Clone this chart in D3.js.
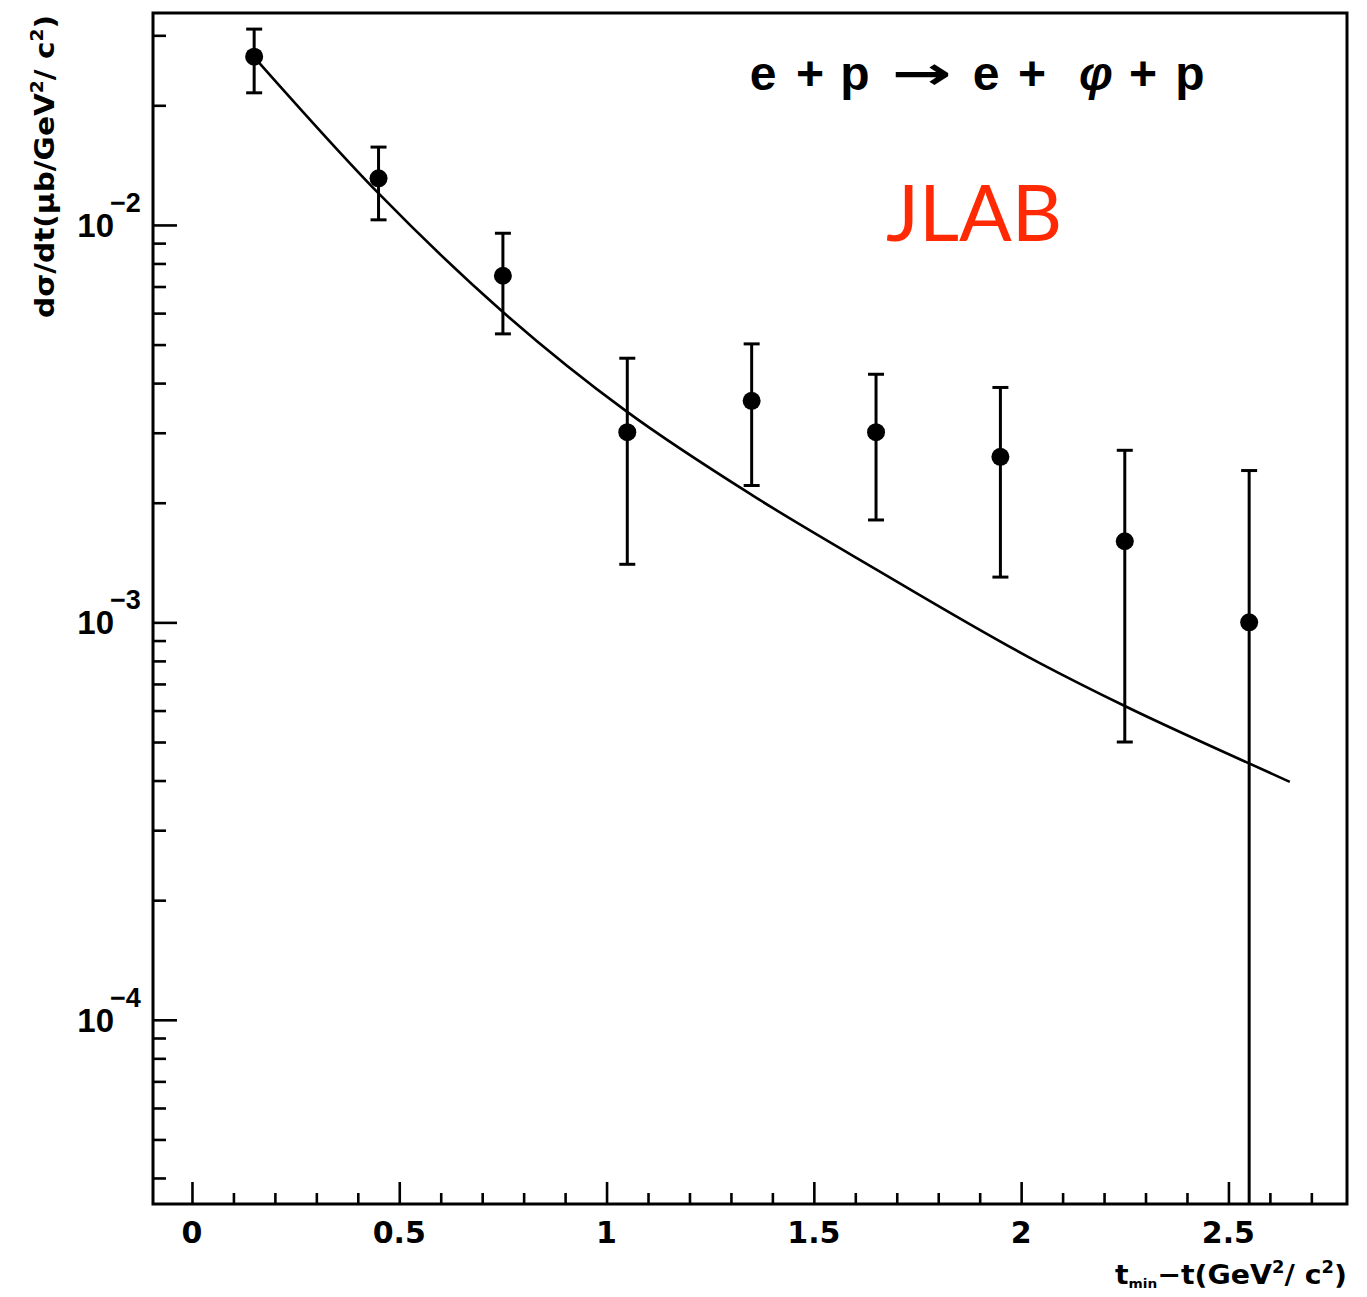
<!DOCTYPE html>
<html>
<head>
<meta charset="utf-8">
<script src="https://cdn.jsdelivr.net/npm/d3@7"></script>
<style>
  html, body { margin: 0; padding: 0; background: #fff; }
  svg { display: block; }
</style>
</head>
<body>
<svg id="chart" width="1367" height="1297"></svg>
<script>
// Measured phi electroproduction cross section vs t_min - t
const tValues   = [0.15, 0.45, 0.75, 1.05, 1.35, 1.65, 1.95, 2.25, 2.55];
const dsdt      = [0.0265, 0.0131, 0.00745, 0.00301, 0.00361, 0.00301, 0.00261, 0.00160, 0.00100];
const dsdtHigh  = [0.0311, 0.0157, 0.00953, 0.00462, 0.00502, 0.00421, 0.00390, 0.00271, 0.00241];
const dsdtLow   = [0.0215, 0.0103, 0.00532, 0.00140, 0.00221, 0.00181, 0.00130, 0.00050, 0];

// Model curve
const curveT = [0.152, 0.449, 0.750, 1.049, 1.351, 1.650, 2.045, 2.250, 2.547, 2.648];
const curveV = [0.0263, 0.01204, 0.00604, 0.00339, 0.00209, 0.00136, 0.00079, 0.000616, 0.000443, 0.000397];

// Axis ticks
const xMajor = [0, 0.5, 1, 1.5, 2, 2.5];
const xMajorLabels = ["0", "0.5", "1", "1.5", "2", "2.5"];
const yDecades = [-4, -3, -2];

const svg = d3.select("#chart");
const plotLeft = 153, plotRight = 1347, plotTop = 13, plotBottom = 1204;

const x = d3.scaleLinear().domain([-0.094, 2.786]).range([plotLeft, plotRight]);
const y = d3.scaleLog().domain([3.44e-5, 0.03414]).range([plotBottom, plotTop]);

svg.append("rect").attr("width", 1367).attr("height", 1297).attr("fill", "#fff");

// minor / major tick values
const xMinor = d3.range(0, 28).map(i => +(i * 0.1).toFixed(1)).filter(v => !xMajor.includes(v));
const yMajorVals = yDecades.map(e => Math.pow(10, e));
const yMinorVals = [];
for (let e = -5; e <= -2; e++) {
  for (let k = 2; k <= 9; k++) {
    const v = k * Math.pow(10, e);
    if (v >= y.domain()[0] && v <= y.domain()[1]) yMinorVals.push(v);
  }
}

function styleAxis(g) {
  g.select(".domain").remove();
  g.selectAll(".tick line").attr("stroke", "#000").attr("stroke-width", 2.6);
  g.selectAll(".tick text").remove();
}

svg.append("g").attr("transform", `translate(0,${plotBottom})`)
  .call(d3.axisBottom(x).tickValues(xMajor).tickSize(-22).tickFormat(""))
  .call(styleAxis);
svg.append("g").attr("transform", `translate(0,${plotBottom})`)
  .call(d3.axisBottom(x).tickValues(xMinor).tickSize(-11).tickFormat(""))
  .call(styleAxis);
svg.append("g").attr("transform", `translate(${plotLeft},0)`)
  .call(d3.axisLeft(y).tickValues(yMajorVals).tickSize(-24).tickFormat(""))
  .call(styleAxis);
svg.append("g").attr("transform", `translate(${plotLeft},0)`)
  .call(d3.axisLeft(y).tickValues(yMinorVals).tickSize(-13).tickFormat(""))
  .call(styleAxis);

// frame
svg.append("rect")
  .attr("x", plotLeft).attr("y", plotTop)
  .attr("width", plotRight - plotLeft).attr("height", plotBottom - plotTop)
  .attr("fill", "none").attr("stroke", "#000").attr("stroke-width", 3);

// x tick labels
svg.append("g").selectAll("text").data(xMajor).join("text")
  .attr("x", d => x(d))
  .attr("y", 1243)
  .attr("text-anchor", "middle")
  .attr("font-family", "DejaVu Sans")
  .attr("font-weight", "bold")
  .attr("font-size", 30)
  .text((d, i) => xMajorLabels[i]);

// y tick labels: 10^n
const yLab = svg.append("g").selectAll("g").data(yDecades).join("g")
  .attr("transform", d => `translate(0,${y(Math.pow(10, d))})`);
yLab.append("text")
  .attr("x", 114).attr("y", 12)
  .attr("text-anchor", "end")
  .attr("font-family", "Liberation Sans")
  .attr("font-weight", "bold")
  .attr("font-size", 33)
  .text("10");
yLab.append("text")
  .attr("x", 110).attr("y", -13)
  .attr("font-family", "Liberation Sans")
  .attr("font-weight", "bold")
  .attr("font-size", 27)
  .text(d => "\u2212" + Math.abs(d));

// axis titles
const yTitle = svg.append("text")
  .attr("transform", "translate(54,318) rotate(-90)")
  .attr("font-family", "DejaVu Sans")
  .attr("font-weight", "bold")
  .attr("font-size", 27)
  .attr("textLength", 303)
  .attr("lengthAdjust", "spacingAndGlyphs");
yTitle.append("tspan").text("dσ/dt(μb/GeV");
yTitle.append("tspan").attr("font-size", 17).attr("dy", -11).text("2");
yTitle.append("tspan").attr("dy", 11).text("/ c");
yTitle.append("tspan").attr("font-size", 17).attr("dy", -11).text("2");
yTitle.append("tspan").attr("dy", 11).text(")");

const xTitle = svg.append("text")
  .attr("x", 1115).attr("y", 1284)
  .attr("font-family", "DejaVu Sans")
  .attr("font-weight", "bold")
  .attr("font-size", 27)
  .attr("textLength", 232)
  .attr("lengthAdjust", "spacingAndGlyphs");
xTitle.append("tspan").text("t");
xTitle.append("tspan").attr("font-size", 13).attr("dy", 4).text("min");
xTitle.append("tspan").attr("dy", -4).text("\u2212t(GeV");
xTitle.append("tspan").attr("font-size", 17).attr("dy", -11).text("2");
xTitle.append("tspan").attr("dy", 11).text("/ c");
xTitle.append("tspan").attr("font-size", 17).attr("dy", -11).text("2");
xTitle.append("tspan").attr("dy", 11).text(")");

// reaction label
const reaction = [
  {s: "e", cx: 763}, {s: "+", cx: 810}, {s: "p", cx: 855},
  {s: "e", cx: 986}, {s: "+", cx: 1032}, {s: "φ", cx: 1096, it: true},
  {s: "+", cx: 1143}, {s: "p", cx: 1190}
];
svg.append("g").selectAll("text").data(reaction).join("text")
  .attr("x", d => d.cx).attr("y", 90)
  .attr("text-anchor", "middle")
  .attr("font-family", "Liberation Sans")
  .attr("font-weight", "bold")
  .attr("font-style", d => d.it ? "italic" : "normal")
  .attr("font-size", 48)
  .text(d => d.s);
svg.append("text")
  .attr("x", 892).attr("y", 89)
  .attr("font-family", "DejaVu Sans")
  .attr("font-weight", "bold")
  .attr("font-size", 46)
  .attr("textLength", 60)
  .attr("lengthAdjust", "spacingAndGlyphs")
  .text("→");

svg.append("text")
  .attr("x", 886).attr("y", 241)
  .attr("font-family", "Lato")
  .attr("font-size", 78)
  .attr("fill", "#ff2a04")
  .text("JLAB");

// model curve
const line = d3.line()
  .x((d, i) => x(curveT[i]))
  .y((d, i) => y(curveV[i]))
  .curve(d3.curveMonotoneX);
svg.append("path")
  .attr("d", line(curveT))
  .attr("fill", "none")
  .attr("stroke", "#000")
  .attr("stroke-width", 2.6);

// data with error bars
const pts = tValues.map((t, i) => ({t, v: dsdt[i], hi: dsdtHigh[i], lo: dsdtLow[i]}));
const eb = svg.append("g").attr("stroke", "#000").attr("stroke-width", 3);
eb.selectAll("line.bar").data(pts).join("line")
  .attr("class", "bar")
  .attr("x1", d => x(d.t)).attr("x2", d => x(d.t))
  .attr("y1", d => y(d.hi))
  .attr("y2", d => d.lo > 0 ? y(d.lo) : plotBottom);
eb.selectAll("line.capHi").data(pts).join("line")
  .attr("class", "capHi")
  .attr("x1", d => x(d.t) - 8).attr("x2", d => x(d.t) + 8)
  .attr("y1", d => y(d.hi)).attr("y2", d => y(d.hi));
eb.selectAll("line.capLo").data(pts.filter(d => d.lo > 0)).join("line")
  .attr("class", "capLo")
  .attr("x1", d => x(d.t) - 8).attr("x2", d => x(d.t) + 8)
  .attr("y1", d => y(d.lo)).attr("y2", d => y(d.lo));

svg.append("g").selectAll("circle").data(pts).join("circle")
  .attr("cx", d => x(d.t)).attr("cy", d => y(d.v))
  .attr("r", 9)
  .attr("fill", "#000");
</script>
</body>
</html>
